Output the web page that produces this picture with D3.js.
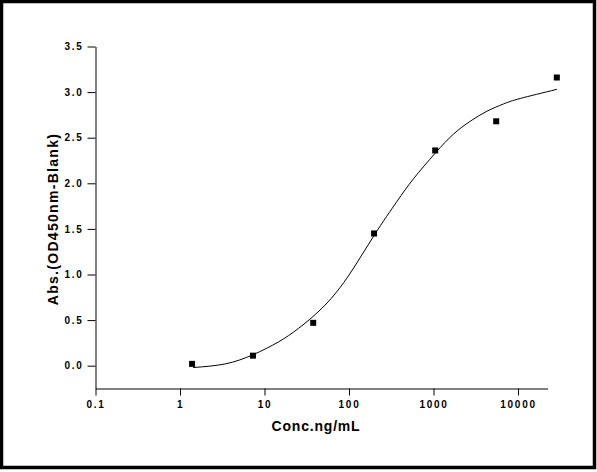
<!DOCTYPE html>
<html>
<head>
<meta charset="utf-8">
<script src="https://cdn.jsdelivr.net/npm/d3@7"></script>
<style>
  body { margin: 0; background: #fff; }
  svg { display: block; }
</style>
</head>
<body>
<svg></svg>
<script>
// measured standards (conc ng/mL, OD)
var conc = [1.39, 7.3, 37.7, 198, 1047, 5520, 28800];
var od = [0.02, 0.11, 0.47, 1.45, 2.36, 2.68, 3.16];

// fitted curve
var fitConc = [1.43, 3.44, 7.29, 14.6, 25.3, 47.8, 94.4, 198.6, 369, 580, 1047, 1726, 2717, 4285, 6730, 10620, 28840];
var fitOd = [-0.02, 0.02, 0.12, 0.26, 0.41, 0.63, 0.96, 1.43, 1.80, 2.05, 2.33, 2.54, 2.68, 2.79, 2.87, 2.93, 3.03];

var xTicks = [0.1, 1, 10, 100, 1000, 10000];
var xTickLabels = ["0.1", "1", "10", "100", "1000", "10000"];
var yTicks = [0.0, 0.5, 1.0, 1.5, 2.0, 2.5, 3.0, 3.5];

var svgWidth = 597, svgHeight = 472;
var svg = d3.select("svg")
  .attr("width", svgWidth)
  .attr("height", svgHeight);

// outer frame
svg.append("rect")
  .attr("x", 1.5).attr("y", 1.5)
  .attr("width", 593).attr("height", 466)
  .attr("fill", "none")
  .attr("stroke", "#000")
  .attr("stroke-width", 3.5);

var x = d3.scaleLog().domain([0.1, 22340]).range([95.5, 547.5]);
var y = d3.scaleLinear().domain([-0.25, 3.5]).range([388.5, 46.5]);

// minor ticks
var xMinor = [];
xTicks.forEach(function(t) {
  for (var k = 2; k <= 9; k++) {
    var v = t * k;
    if (v < x.domain()[1]) xMinor.push(v);
  }
});
var yMinor = d3.range(-0.25, 3.5, 0.5);

var tickFont = "bold 10px 'Liberation Sans', Arial, sans-serif";

var gx = svg.append("g")
  .attr("transform", "translate(0," + y.range()[0] + ")");
gx.call(d3.axisBottom(x).tickValues(xMinor).tickSize(4).tickFormat(""))
  .select(".domain").remove();
gx.call(d3.axisBottom(x).tickValues(xTicks).tickSize(7).tickSizeOuter(0)
    .tickFormat(function(d, i) { return xTickLabels[i]; }))
  .selectAll("text")
  .attr("dy", "0.71em")
  .attr("y", 12)
  .style("font", tickFont)
  .style("letter-spacing", "1.7px")
  .attr("fill", "#000");
gx.selectAll("line").attr("stroke", "#000");
gx.select(".domain").attr("stroke", "#000");

var gy = svg.append("g")
  .attr("transform", "translate(" + x.range()[0] + ",0)");
gy.call(d3.axisLeft(y).tickValues(yMinor).tickSize(3).tickFormat(""))
  .select(".domain").remove();
gy.call(d3.axisLeft(y).tickValues(yTicks).tickSize(8).tickSizeOuter(0)
    .tickFormat(d3.format(".1f")))
  .selectAll("text")
  .attr("x", -12)
  .style("font", tickFont)
  .style("letter-spacing", "1.7px")
  .attr("fill", "#000");
gy.selectAll("line").attr("stroke", "#000");
gy.select(".domain").attr("stroke", "#000");

// axis titles
svg.append("text")
  .attr("x", 316)
  .attr("y", 431)
  .attr("text-anchor", "middle")
  .style("font", "bold 14px 'Liberation Sans', Arial, sans-serif")
  .style("letter-spacing", "0.8px")
  .text("Conc.ng/mL");

svg.append("text")
  .attr("transform", "translate(58,219) rotate(-90)")
  .attr("text-anchor", "middle")
  .style("font", "bold 14px 'Liberation Sans', Arial, sans-serif")
  .style("letter-spacing", "1.3px")
  .text("Abs.(OD450nm-Blank)");

// fit curve
var fit = fitConc.map(function(c, i) { return { c: c, v: fitOd[i] }; });
var line = d3.line()
  .x(function(d) { return x(d.c); })
  .y(function(d) { return y(d.v); })
  .curve(d3.curveNatural);
svg.append("path")
  .datum(fit)
  .attr("fill", "none")
  .attr("stroke", "#000")
  .attr("stroke-width", 1)
  .attr("d", line);

// points
var pts = conc.map(function(c, i) { return { c: c, v: od[i] }; });
svg.selectAll(".pt")
  .data(pts)
  .enter().append("rect")
  .attr("class", "pt")
  .attr("x", function(d) { return x(d.c) - 3; })
  .attr("y", function(d) { return y(d.v) - 3; })
  .attr("width", 6)
  .attr("height", 6)
  .attr("fill", "#000");
</script>
</body>
</html>
